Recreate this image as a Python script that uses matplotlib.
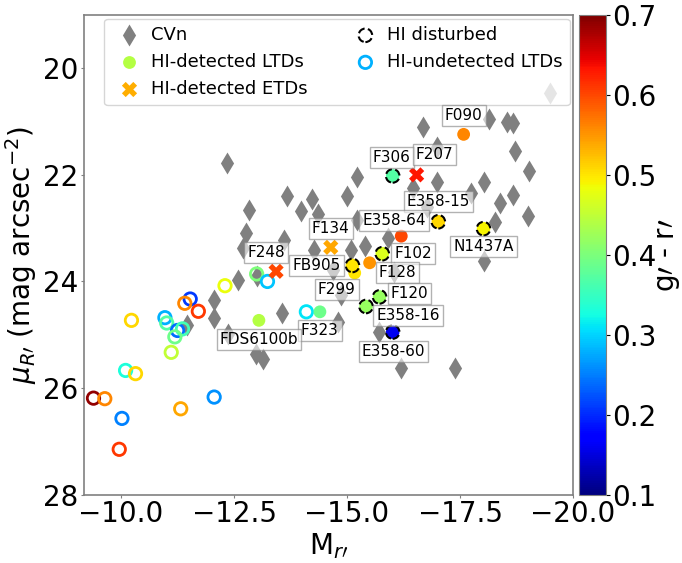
import matplotlib
matplotlib.use('Agg')
import matplotlib.pyplot as plt
from matplotlib.colors import Normalize
from matplotlib.cm import ScalarMappable

# ---------------- data ----------------
cvn_M = [-19.50, -16.69, -18.15, -18.53, -18.68, -17.00, -18.72, -19.03, -15.21, -12.34,
         -17.00, -18.04, -16.47, -13.68, -14.22, -15.01, -13.99, -12.82, -17.75, -18.39,
         -18.68, -19.01, -18.28, -15.23, -14.35, -12.76, -13.60, -15.90, -15.39, -15.08,
         -14.26, -12.69, -12.58, -13.00, -12.05, -12.05, -11.47, -13.57, -12.36, -12.98,
         -13.15, -14.81, -15.70, -16.20, -17.40, -18.02, -14.86, -14.68, -16.78, -16.03]
cvn_mu = [20.47, 21.10, 20.96, 21.01, 21.03, 21.48, 21.55, 21.93, 22.04, 21.78,
          22.13, 22.13, 22.25, 22.40, 22.45, 22.40, 22.68, 22.66, 22.34, 22.53,
          22.38, 22.77, 22.88, 22.85, 22.73, 23.09, 23.22, 23.18, 23.33, 23.41,
          23.41, 23.37, 23.97, 23.90, 24.34, 24.68, 24.81, 24.59, 24.98, 25.37,
          25.45, 24.76, 24.94, 25.62, 25.62, 23.61, 24.25, 23.78, 22.60, 23.82]

ltd_names = ['F090', 'F306', 'E358-15', 'N1437A', 'E358-64', 'F102', 'F128', 'FB905',
             'F299', 'F120', 'E358-16', 'E358-60', 'F323', 'FDS6100b']
ltd_M = [-17.58, -16.01, -17.02, -18.02, -16.20, -15.78, -15.50, -15.12,
         -15.17, -15.72, -15.42, -16.01, -14.40, -13.05]
ltd_mu = [21.24, 22.02, 22.88, 23.01, 23.15, 23.48, 23.65, 23.70,
          23.84, 24.29, 24.47, 24.95, 24.57, 24.73]
ltd_gr = [0.56, 0.37, 0.51, 0.49, 0.60, 0.47, 0.55, 0.50,
          0.50, 0.42, 0.42, 0.16, 0.39, 0.44]
ltd_disturbed = [False, True, True, True, False, True, False, True,
                 False, True, True, True, False, False]

etd_names = ['F207', 'F134', 'F248']
etd_M = [-16.54, -14.64, -13.43]
etd_mu = [22.00, 23.36, 23.81]
etd_gr = [0.63, 0.54, 0.60]

und_M = [-13.00, -13.24, -12.30, -11.53, -11.41, -11.71, -10.23, -10.97, -11.01, -11.25,
         -11.36, -11.19, -11.11, -10.10, -10.32, -9.39, -9.64, -10.02, -9.96, -11.32,
         -12.06, -14.10]
und_mu = [23.86, 24.00, 24.08, 24.33, 24.41, 24.56, 24.73, 24.68, 24.78, 24.92,
          24.89, 25.04, 25.33, 25.67, 25.73, 26.19, 26.20, 26.57, 27.15, 26.39,
          26.17, 24.57]
und_gr = [0.40, 0.29, 0.48, 0.21, 0.56, 0.61, 0.51, 0.28, 0.37, 0.24,
          0.36, 0.39, 0.45, 0.33, 0.51, 0.69, 0.56, 0.25, 0.61, 0.54,
          0.26, 0.31]

x_ticks = [-10.0, -12.5, -15.0, -17.5, -20.0]
y_ticks = [20, 22, 24, 26, 28]
cbar_ticks = [0.1, 0.2, 0.3, 0.4, 0.5, 0.6, 0.7]

# label offsets (pixels) -- style only
label_offsets = {
    'F090': (0, 19), 'F306': (-1, 18), 'E358-15': (0, 20), 'N1437A': (0, -18),
    'E358-64': (-7, 16), 'F102': (31, 0), 'F128': (28, -10), 'FB905': (-36, 0),
    'F299': (-18, -17), 'F120': (30, 3), 'E358-16': (42, -9), 'E358-60': (1, -19),
    'F323': (0, -19), 'FDS6100b': (0, -19),
    'F207': (18, 20), 'F134': (0, 19), 'F248': (-10, 19),
}

# ---------------- figure ----------------
W, H = 682, 563
fig = plt.figure(figsize=(W / 100, H / 100), dpi=100)
ax = fig.add_axes([84 / W, 1 - 494.6 / H, (573 - 84) / W, (494.6 - 15) / H])
cax = fig.add_axes([579 / W, 1 - 494.6 / H, 27 / W, (494.6 - 15) / H])

cmap = plt.get_cmap('jet')
norm = Normalize(vmin=0.1, vmax=0.7)

ax.scatter(cvn_M, cvn_mu, marker='d', s=125, color='grey', linewidths=0, zorder=2)

# undetected (open circles)
ax.scatter(und_M, und_mu, marker='o', s=80, facecolors='none',
           edgecolors=cmap(norm(und_gr)), linewidths=2, zorder=3)

# detected LTDs
nd_M = [m for m, d in zip(ltd_M, ltd_disturbed) if not d]
nd_mu = [m for m, d in zip(ltd_mu, ltd_disturbed) if not d]
nd_gr = [m for m, d in zip(ltd_gr, ltd_disturbed) if not d]
d_M = [m for m, d in zip(ltd_M, ltd_disturbed) if d]
d_mu = [m for m, d in zip(ltd_mu, ltd_disturbed) if d]
d_gr = [m for m, d in zip(ltd_gr, ltd_disturbed) if d]
ax.scatter(nd_M, nd_mu, marker='o', s=85, c=nd_gr, cmap=cmap, norm=norm,
           linewidths=0, zorder=4)
ax.scatter(d_M, d_mu, marker='o', s=95, c=d_gr, cmap=cmap, norm=norm,
           edgecolors='black', linewidths=1.5, linestyles='--', zorder=4)

# detected ETDs
ax.scatter(etd_M, etd_mu, marker='X', s=120, c=etd_gr, cmap=cmap, norm=norm,
           linewidths=0, zorder=4)

# labels
bbox = dict(boxstyle='square,pad=0.2', facecolor='white', edgecolor='grey', alpha=0.6)
for names, xs, ys in [(ltd_names, ltd_M, ltd_mu), (etd_names, etd_M, etd_mu)]:
    for n, x, y in zip(names, xs, ys):
        dx, dy = label_offsets[n]
        ax.annotate(n, xy=(x, y), xytext=(dx, dy), textcoords='offset pixels',
                    ha='center', va='center', fontsize=11, bbox=bbox, zorder=6)

ax.set_xlim(-9.18, -20.0)
ax.set_ylim(28, 19.0)
ax.set_xticks(x_ticks)
ax.set_yticks(y_ticks)
ax.tick_params(labelsize=20, color='grey', length=2.5, pad=1.5)
for sp in ax.spines.values():
    sp.set_color('grey')
    sp.set_linewidth(1.2)
ax.set_xlabel(r'$\mathrm{M}_{r\prime}$', fontsize=20, labelpad=2)
ax.set_ylabel(r'$\mu_{R\prime}$ (mag arcsec$^{-2}$)', fontsize=20, labelpad=3)

# legend proxies
h1 = ax.scatter([], [], marker='d', s=125, color='grey', linewidths=0, label='CVn')
h2 = ax.scatter([], [], marker='o', s=85, color=cmap(norm(0.44)), linewidths=0,
                label='HI-detected LTDs')
h3 = ax.scatter([], [], marker='X', s=120, color=cmap(norm(0.535)), linewidths=0,
                label='HI-detected ETDs')
h4 = ax.scatter([], [], marker='o', s=95, facecolors='white', edgecolors='black',
                linewidths=1.5, linestyles='--', label='HI disturbed')
h5 = ax.scatter([], [], marker='o', s=80, facecolors='none', edgecolors=cmap(norm(0.28)),
                linewidths=2, label='HI-undetected LTDs')
ax.legend(handles=[h1, h2, h3, h4, h5], ncol=2, fontsize=13, loc='upper left',
          bbox_to_anchor=(0.041, 0.992), borderaxespad=0, handlelength=2,
          handletextpad=0.2, columnspacing=2.2, scatterpoints=1)

sm = ScalarMappable(norm=norm, cmap=cmap)
cb = fig.colorbar(sm, cax=cax, ticks=cbar_ticks)
cb.ax.tick_params(labelsize=20, length=3, pad=1.5)
cb.set_label(r'g$\prime$ - r$\prime$', fontsize=20, labelpad=-2)
cb.outline.set_edgecolor('grey')

fig.savefig('out.png', dpi=100)
